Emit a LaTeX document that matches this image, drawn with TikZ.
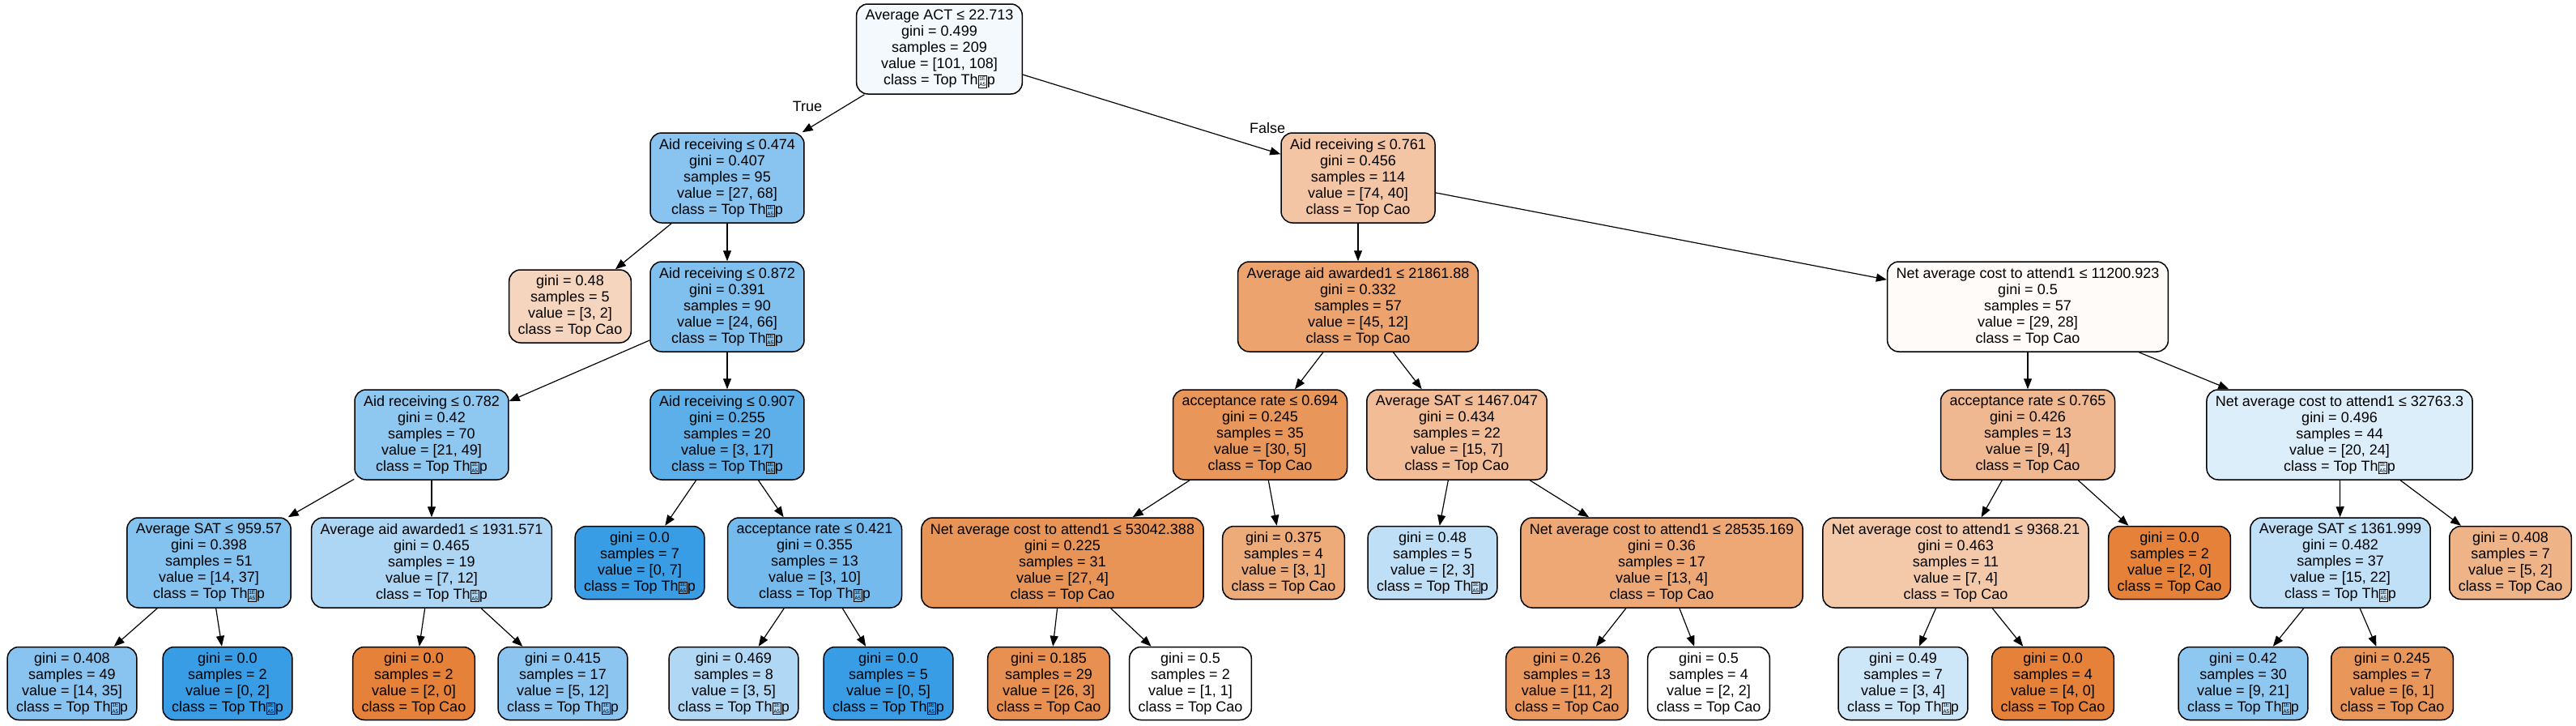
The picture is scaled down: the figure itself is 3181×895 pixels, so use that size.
\documentclass[tikz,border=0pt]{standalone}
\usepackage{fontspec}
\setmainfont{Liberation Sans}
\usetikzlibrary{arrows.meta}
\definecolor{co}{HTML}{E58139}
\definecolor{cb}{HTML}{399DE5}
\newcommand\tofu{\raisebox{-2pt}{\setlength\fboxsep{1pt}\setlength\fboxrule{0.6pt}\fbox{\fontsize{6.5}{7.5}\selectfont\vbox{\hbox{1E}\hbox{A5}}}}}
\newcommand\Th{Top Th\tofu p}
\tikzset{
  tn/.style={draw=black, line width=1.5pt, rounded corners=14pt, align=center,
    inner xsep=11pt, inner ysep=4pt, minimum height=111pt,
    font=\fontsize{18}{20}\selectfont},
  leafn/.style={tn, minimum height=90pt},
  edge/.style={draw=black, line width=1.2pt, -{Triangle[length=13pt,width=10pt]}},
  lbl/.style={font=\fontsize{18}{20}\selectfont, inner sep=0pt}
}
\begin{document}
\begin{tikzpicture}[x=1pt,y=-1pt]
\useasboundingbox[fill=white] (0,0) rectangle (3181,895);
% row 0
\node[tn, fill=cb!6!white] (n0) at (1160,60.5) {Average ACT ≤ 22.713\\gini = 0.499\\samples = 209\\value = [101, 108]\\class = \Th};
% row 1
\node[tn, fill=cb!60!white] (n1) at (898,219.5) {Aid receiving ≤ 0.474\\gini = 0.407\\samples = 95\\value = [27, 68]\\class = \Th};
\node[tn, fill=co!46!white] (n2) at (1677,219.5) {Aid receiving ≤ 0.761\\gini = 0.456\\samples = 114\\value = [74, 40]\\class = Top Cao};
% row 2
\node[leafn, fill=co!33!white] (n3) at (704,378) {gini = 0.48\\samples = 5\\value = [3, 2]\\class = Top Cao};
\node[tn, fill=cb!64!white] (n4) at (898,378.5) {Aid receiving ≤ 0.872\\gini = 0.391\\samples = 90\\value = [24, 66]\\class = \Th};
\node[tn, fill=co!73!white] (n5) at (1677,378.5) {Average aid awarded1 ≤ 21861.88\\gini = 0.332\\samples = 57\\value = [45, 12]\\class = Top Cao};
\node[tn, fill=co!3.5!white] (n6) at (2504,378.5) {Net average cost to attend1 ≤ 11200.923\\gini = 0.5\\samples = 57\\value = [29, 28]\\class = Top Cao};
% row 3
\node[tn, fill=cb!57!white] (n7) at (533,536.5) {Aid receiving ≤ 0.782\\gini = 0.42\\samples = 70\\value = [21, 49]\\class = \Th};
\node[tn, fill=cb!82!white] (n8) at (898,536.5) {Aid receiving ≤ 0.907\\gini = 0.255\\samples = 20\\value = [3, 17]\\class = \Th};
\node[tn, fill=co!83!white] (n9) at (1556,536.5) {acceptance rate ≤ 0.694\\gini = 0.245\\samples = 35\\value = [30, 5]\\class = Top Cao};
\node[tn, fill=co!53!white] (n10) at (1799,536.5) {Average SAT ≤ 1467.047\\gini = 0.434\\samples = 22\\value = [15, 7]\\class = Top Cao};
\node[tn, fill=co!56!white] (n11) at (2504,536.5) {acceptance rate ≤ 0.765\\gini = 0.426\\samples = 13\\value = [9, 4]\\class = Top Cao};
\node[tn, fill=cb!17!white] (n12) at (2889,536.5) {Net average cost to attend1 ≤ 32763.3\\gini = 0.496\\samples = 44\\value = [20, 24]\\class = \Th};
% row 4
\node[tn, fill=cb!62!white] (n13) at (258,694.5) {Average SAT ≤ 959.57\\gini = 0.398\\samples = 51\\value = [14, 37]\\class = \Th};
\node[tn, fill=cb!42!white] (n14) at (533,694.5) {Average aid awarded1 ≤ 1931.571\\gini = 0.465\\samples = 19\\value = [7, 12]\\class = \Th};
\node[leafn, fill=cb] (n15) at (790,694.5) {gini = 0.0\\samples = 7\\value = [0, 7]\\class = \Th};
\node[tn, fill=cb!70!white] (n16) at (1006,694.5) {acceptance rate ≤ 0.421\\gini = 0.355\\samples = 13\\value = [3, 10]\\class = \Th};
\node[tn, fill=co!85!white] (n17) at (1312,694.5) {Net average cost to attend1 ≤ 53042.388\\gini = 0.225\\samples = 31\\value = [27, 4]\\class = Top Cao};
\node[leafn, fill=co!67!white] (n18) at (1585,694.5) {gini = 0.375\\samples = 4\\value = [3, 1]\\class = Top Cao};
\node[leafn, fill=cb!33!white] (n19) at (1769,694.5) {gini = 0.48\\samples = 5\\value = [2, 3]\\class = \Th};
\node[tn, fill=co!69!white] (n20) at (2052,694.5) {Net average cost to attend1 ≤ 28535.169\\gini = 0.36\\samples = 17\\value = [13, 4]\\class = Top Cao};
\node[tn, fill=co!43!white] (n21) at (2415,694.5) {Net average cost to attend1 ≤ 9368.21\\gini = 0.463\\samples = 11\\value = [7, 4]\\class = Top Cao};
\node[leafn, fill=co] (n22) at (2679,694.5) {gini = 0.0\\samples = 2\\value = [2, 0]\\class = Top Cao};
\node[tn, fill=cb!32!white] (n23) at (2890,694.5) {Average SAT ≤ 1361.999\\gini = 0.482\\samples = 37\\value = [15, 22]\\class = \Th};
\node[leafn, fill=co!60!white] (n24) at (3100,694.5) {gini = 0.408\\samples = 7\\value = [5, 2]\\class = Top Cao};
% row 5
\node[leafn, fill=cb!60!white] (n25) at (89,843.5) {gini = 0.408\\samples = 49\\value = [14, 35]\\class = \Th};
\node[leafn, fill=cb] (n26) at (281,843.5) {gini = 0.0\\samples = 2\\value = [0, 2]\\class = \Th};
\node[leafn, fill=co] (n27) at (511,843.5) {gini = 0.0\\samples = 2\\value = [2, 0]\\class = Top Cao};
\node[leafn, fill=cb!58!white] (n28) at (695,843.5) {gini = 0.415\\samples = 17\\value = [5, 12]\\class = \Th};
\node[leafn, fill=cb!40!white] (n29) at (906,843.5) {gini = 0.469\\samples = 8\\value = [3, 5]\\class = \Th};
\node[leafn, fill=cb] (n30) at (1097,843.5) {gini = 0.0\\samples = 5\\value = [0, 5]\\class = \Th};
\node[leafn, fill=co!88!white] (n31) at (1295,843.5) {gini = 0.185\\samples = 29\\value = [26, 3]\\class = Top Cao};
\node[leafn, fill=white] (n32) at (1470,843.5) {gini = 0.5\\samples = 2\\value = [1, 1]\\class = Top Cao};
\node[leafn, fill=co!82!white] (n33) at (1935,843.5) {gini = 0.26\\samples = 13\\value = [11, 2]\\class = Top Cao};
\node[leafn, fill=white] (n34) at (2110,843.5) {gini = 0.5\\samples = 4\\value = [2, 2]\\class = Top Cao};
\node[leafn, fill=cb!25!white] (n35) at (2350,843.5) {gini = 0.49\\samples = 7\\value = [3, 4]\\class = \Th};
\node[leafn, fill=co] (n36) at (2535,843.5) {gini = 0.0\\samples = 4\\value = [4, 0]\\class = Top Cao};
\node[leafn, fill=cb!57!white] (n37) at (2770,843.5) {gini = 0.42\\samples = 30\\value = [9, 21]\\class = \Th};
\node[leafn, fill=co!83!white] (n38) at (2954,843.5) {gini = 0.245\\samples = 7\\value = [6, 1]\\class = Top Cao};
% edge labels
\node[lbl] (tl) at (997,131) {True};
\node[lbl] (fl) at (1565,158) {False};
% edges
\foreach \a/\b in {n0/n1, n0/n2, n1/n3, n1/n4, n2/n5, n2/n6, n4/n7, n4/n8,
  n5/n9, n5/n10, n6/n11, n6/n12, n7/n13, n7/n14, n8/n15, n8/n16,
  n9/n17, n9/n18, n10/n19, n10/n20, n11/n21, n11/n22, n12/n23, n12/n24,
  n13/n25, n13/n26, n14/n27, n14/n28, n16/n29, n16/n30, n17/n31, n17/n32,
  n20/n33, n20/n34, n21/n35, n21/n36, n23/n37, n23/n38}
  \draw[edge] (\a) -- (\b);
\end{tikzpicture}
\end{document}
